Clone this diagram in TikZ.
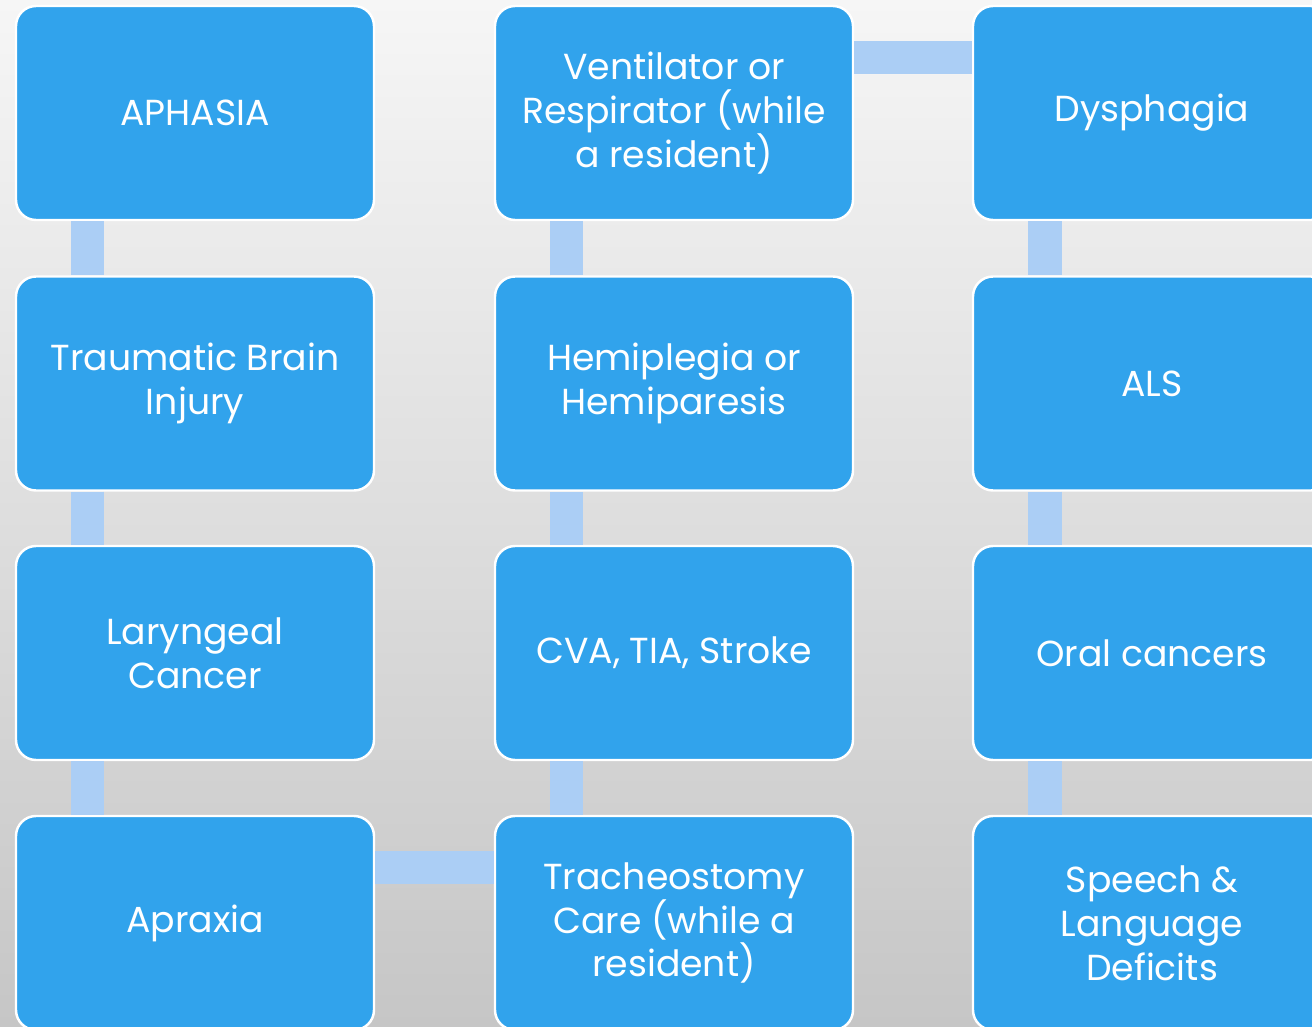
\documentclass[tikz,border=0pt]{standalone}
\usepackage{fontspec}
\setmainfont{Poppins}
\definecolor{boxblue}{HTML}{31A3EC}
\definecolor{barblue}{HTML}{ABCEF5}
\definecolor{bgtop}{HTML}{F6F6F6}
\definecolor{bgbottom}{HTML}{C6C6C6}

\begin{document}
\begin{tikzpicture}[
  box/.style={draw=white, line width=0.7pt, fill=boxblue, rounded corners=0.2cm,
    minimum width=3.58cm, minimum height=2.14cm, text=white, align=center,
    font=\fontsize{10.3}{12.5}\selectfont},
  bar/.style={draw=barblue, line width=0.33cm}]
\useasboundingbox (0,0) rectangle (13.12,-10.27);
\clip (0,0) rectangle (13.12,-10.27);
\fill [top color=bgtop, bottom color=bgbottom] (0,0) rectangle (13.12,-10.27); % background

% first column
\node[box] (aph) at (1.95,-1.13) {APHASIA};
\node[box] (tbi) at (1.95,-3.835) {Traumatic Brain\\Injury};
\node[box] (lar) at (1.95,-6.53) {Laryngeal\\Cancer};
\node[box] (apr) at (1.95,-9.23) {Apraxia};
% second column
\node[box] (vent) at (6.74,-1.13) {Ventilator or\\Respirator (while\\a resident)};
\node[box] (hemi) at (6.74,-3.835) {Hemiplegia or\\Hemiparesis};
\node[box] (cva) at (6.74,-6.53) {CVA, TIA, Stroke};
\node[box] (trach) at (6.74,-9.23) {Tracheostomy\\Care (while a\\resident)};
% third column
\node[box] (dys) at (11.52,-1.13) {Dysphagia};
\node[box] (als) at (11.52,-3.835) {ALS};
\node[box] (oral) at (11.52,-6.53) {Oral cancers};
\node[box] (speech) at (11.52,-9.23) {Speech \&\\Language\\Deficits};

% connectors
\draw [bar] ([xshift=-1.07cm]aph.south) to ([xshift=-1.07cm]tbi.north);
\draw [bar] ([xshift=-1.07cm]tbi.south) to ([xshift=-1.07cm]lar.north);
\draw [bar] ([xshift=-1.07cm]lar.south) to ([xshift=-1.07cm]apr.north);
\draw [bar] ([yshift=0.56cm]apr.east) to ([yshift=0.56cm]trach.west);
\draw [bar] ([xshift=-1.07cm]trach.north) to ([xshift=-1.07cm]cva.south);
\draw [bar] ([xshift=-1.07cm]cva.north) to ([xshift=-1.07cm]hemi.south);
\draw [bar] ([xshift=-1.07cm]hemi.north) to ([xshift=-1.07cm]vent.south);
\draw [bar] ([yshift=0.56cm]vent.east) to ([yshift=0.56cm]dys.west);
\draw [bar] ([xshift=-1.07cm]dys.south) to ([xshift=-1.07cm]als.north);
\draw [bar] ([xshift=-1.07cm]als.south) to ([xshift=-1.07cm]oral.north);
\draw [bar] ([xshift=-1.07cm]oral.south) to ([xshift=-1.07cm]speech.north);
\end{tikzpicture}
\end{document}
